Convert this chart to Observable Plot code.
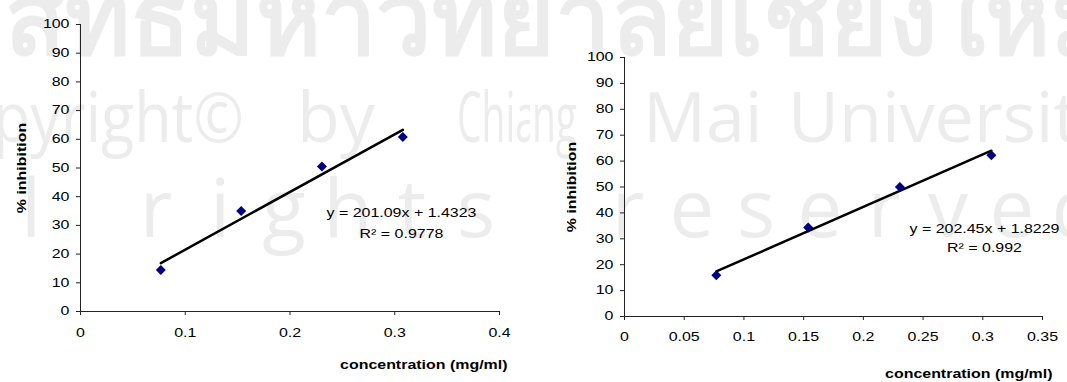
<!DOCTYPE html>
<html>
<head>
<meta charset="utf-8">
<script src="https://cdn.jsdelivr.net/npm/d3@7"></script>
<script src="https://cdn.jsdelivr.net/npm/@observablehq/plot@0.6"></script>
<style>
  html, body { margin: 0; padding: 0; background: #fff; }
  #wrap { position: relative; width: 1067px; height: 382px; overflow: hidden; background: #fff; }
  .wm { position: absolute; top: 0; overflow: hidden; }
  .panel { position: absolute; top: 0; }
</style>
</head>
<body>
<div id="wrap">
  <svg class="wm" id="wmL" width="530" height="382" style="left:0px"></svg>
  <svg class="wm" id="wmR" width="537" height="382" style="left:530px"></svg>
  <div class="panel" id="p1" style="left:0px"></div>
  <div class="panel" id="p2" style="left:537px"></div>
</div>
<script>
// ---- data ----
const concentration1 = [0.0767, 0.1534, 0.2305, 0.3077];
const inhibition1    = [14.5, 35.0, 50.5, 60.8];
const slope1 = 201.09, intercept1 = 1.4323, rsq1 = "0.9778";

const concentration2 = [0.0769, 0.1538, 0.2306, 0.3072];
const inhibition2    = [15.9, 34.4, 50.0, 62.3];
const slope2 = 202.45, intercept2 = 1.8229, rsq2 = "0.992";

const yTicks  = [0, 10, 20, 30, 40, 50, 60, 70, 80, 90, 100];
const xTicks1 = [0, 0.1, 0.2, 0.3, 0.4];
const xTicks2 = [0, 0.05, 0.1, 0.15, 0.2, 0.25, 0.3, 0.35];

const yLabel = "% inhibition";
const xLabel = "concentration (mg/ml)";

// ---- watermark (background decoration; the two panels are separate crops) ----
const wmColor = "#ececec";
function wmText(svg, str, x, y, size, opts = {}) {
  const t = svg.append("text").attr("x", x).attr("y", y)
    .attr("font-family", opts.family || "Open Sans, sans-serif").attr("font-size", size)
    .attr("fill", wmColor).text(str);
  if (opts.anchor) t.attr("text-anchor", opts.anchor);
  if (opts.weight) t.attr("font-weight", opts.weight);
  if (opts.len) t.attr("textLength", opts.len).attr("lengthAdjust", "spacingAndGlyphs");
  return t;
}
const wmL = d3.select("#wmL"), wmR = d3.select("#wmR");
const thai = "ลิขสิทธิ์มหาวิทยาลัยเชียงใหม่";
wmText(wmL, thai, -123, 54, 100, {family: "Noto Sans, DejaVu Sans, sans-serif", weight: "bold", len: 1239});
wmText(wmR, thai, -653, 54, 100, {family: "Noto Sans, DejaVu Sans, sans-serif", weight: "bold", len: 1239});
wmText(wmL, "Copyright©", -82, 142, 70, {len: 326});
wmText(wmL, "by", 297, 142, 70);
wmText(wmL, "Chiang", 457, 142, 70, {len: 125});
wmText(wmR, "Chiang", -78, 142, 70, {len: 125});
wmText(wmR, "Mai", 113, 142, 70);
wmText(wmR, "University", 258, 142, 70);
const spaced = (svg, w, x0) => [...w].forEach((c, i) => wmText(svg, c, x0 + 64 * i, 237, 80, {anchor: "middle"}));
spaced(wmL, "All", 31 - 128);
spaced(wmL, "rights", 156);
spaced(wmR, "reserved", 98);

// ---- charts ----
function panel(xs, ys, slope, intercept, rsq, xTicks, xMax, m, eq) {
  const pts = xs.map((x, i) => ({x, y: ys[i]}));
  const ext = d3.extent(xs);
  const trend = ext.map(x => ({x, y: slope * x + intercept}));
  const fmt = d => String(+d.toFixed(2));
  const eqText = `y = ${slope}x + ${intercept}\nR² = ${rsq}`;
  return Plot.plot({
    width: 530, height: 382,
    marginLeft: m[0], marginRight: m[1], marginTop: m[2], marginBottom: m[3],
    style: {fontFamily: "Liberation Sans, Arial, sans-serif", fontSize: "12px", color: "#000", background: "transparent"},
    x: {domain: [0, xMax], ticks: xTicks},
    y: {domain: [0, 100], ticks: yTicks},
    marks: [
      Plot.ruleX([0], {stroke: "#222"}),
      Plot.ruleY([0], {stroke: "#222"}),
      Plot.axisY({ticks: yTicks, tickSize: 4, tickPadding: 7, label: null, stroke: "#222", fill: "#000"}),
      Plot.axisX({ticks: xTicks, tickSize: 4, tickPadding: m[7], label: null, tickFormat: fmt, stroke: "#222", fill: "#000"}),
      Plot.line(trend, {x: "x", y: "y", stroke: "#000", strokeWidth: 2.5}),
      Plot.dot(pts, {x: "x", y: "y", symbol: "diamond2", fill: "#000080", stroke: "none", r: 4.5}),
      Plot.text([eqText], {frameAnchor: "right", text: d => d, dx: eq[0], dy: eq[1], textAnchor: "middle", lineAnchor: "top", lineHeight: eq[2], fontSize: 12, fill: "#000"}),
      Plot.text([yLabel], {frameAnchor: "left", text: d => d, rotate: -90, textAnchor: "middle", dx: m[4], fontWeight: "bold", fontSize: 12, fill: "#000"}),
      Plot.text([xLabel], {frameAnchor: "bottom-right", text: d => d, textAnchor: "end", dx: m[5], dy: m[6], fontWeight: "bold", fontSize: 12, fill: "#000", style: "letter-spacing:0.4px"})
    ]
  });
}

// widen lettering horizontally like the reference (its picture is stretched sideways)
function stretchText(svg, s) {
  svg.querySelectorAll("text").forEach(t => {
    const tr = t.getAttribute("transform") || "";
    const xa = t.getAttribute("x");
    let extra = "";
    if (xa !== null) {
      const px = /em$/.test(xa) ? parseFloat(xa) * 12 : parseFloat(xa);
      if (isFinite(px)) { extra = ` translate(${px},0)`; t.removeAttribute("x"); }
    }
    t.setAttribute("transform", `${tr}${extra} scale(${s},1)`);
  });
  return svg;
}

const c1 = panel(concentration1, inhibition1, slope1, intercept1, rsq1, xTicks1, 0.4,
        [80, 31, 24, 71, -58, 8, 57, 13], [-98, 34.5, 1.75]);
const c2 = panel(concentration2, inhibition2, slope2, intercept2, rsq2, xTicks2, 0.35,
        [87, 25, 57, 66, -52, 10, 61, 12], [-58, 32, 1.6]);
document.getElementById("p1").appendChild(stretchText(c1, 1.33));
document.getElementById("p2").appendChild(stretchText(c2, 1.33));
</script>
</body>
</html>
